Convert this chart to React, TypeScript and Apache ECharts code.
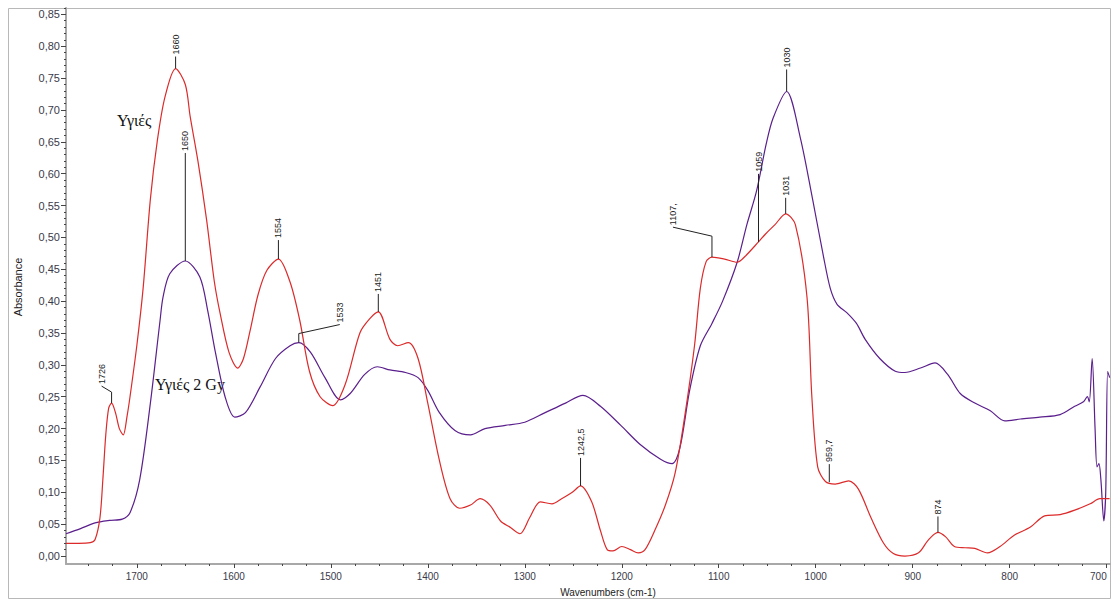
import React, { useEffect, useRef } from 'react';
import * as echarts from 'echarts';

// Υγιές (healthy) spectrum – wavenumber (cm-1) / absorbance
const healthyWn = [1773, 1760, 1748, 1743, 1738, 1735, 1732, 1729, 1726, 1722, 1718, 1714, 1710, 1707, 1700, 1693.5, 1686, 1679, 1671, 1660, 1650, 1645, 1637, 1628, 1620, 1614, 1605, 1596, 1590, 1583, 1575, 1566, 1554, 1542, 1532, 1522, 1511, 1498, 1485, 1470, 1460, 1451, 1439, 1431, 1420, 1410, 1400, 1388, 1377, 1367, 1356, 1346, 1336, 1325, 1315, 1305, 1295, 1284, 1272, 1262, 1251, 1242.5, 1231, 1222, 1215, 1209, 1200, 1191, 1183, 1176, 1166, 1155, 1145, 1135, 1125, 1119, 1113, 1107, 1094, 1081, 1073, 1059, 1052, 1042, 1031, 1021, 1009, 1004, 998, 990, 980, 966, 956, 943, 930, 920, 908, 894, 884, 874, 866, 857, 846, 836, 823, 810, 795, 779, 764, 748, 733, 717, 707, 697];
const healthyAbs = [0.02, 0.02, 0.021, 0.026, 0.06, 0.12, 0.19, 0.232, 0.24, 0.225, 0.2, 0.19, 0.22, 0.25, 0.33, 0.42, 0.56, 0.65, 0.72, 0.765, 0.74, 0.69, 0.62, 0.527, 0.43, 0.38, 0.32, 0.295, 0.31, 0.355, 0.41, 0.448, 0.466, 0.43, 0.37, 0.29, 0.25, 0.236, 0.27, 0.35, 0.372, 0.383, 0.34, 0.33, 0.335, 0.31, 0.24, 0.15, 0.09, 0.075, 0.08, 0.09, 0.08, 0.055, 0.045, 0.035, 0.06, 0.085, 0.082, 0.09, 0.1, 0.11, 0.085, 0.04, 0.01, 0.008, 0.015, 0.01, 0.005, 0.01, 0.04, 0.08, 0.13, 0.22, 0.33, 0.42, 0.462, 0.469, 0.466, 0.461, 0.47, 0.493, 0.505, 0.52, 0.537, 0.52, 0.406, 0.25, 0.14, 0.117, 0.113, 0.118, 0.105, 0.06, 0.02, 0.004, 0.0, 0.005, 0.025, 0.037, 0.03, 0.015, 0.013, 0.012, 0.005, 0.015, 0.033, 0.045, 0.063, 0.065, 0.072, 0.082, 0.09, 0.09];

// Υγιές 2 Gy (irradiated) spectrum
const irradiatedWn = [1773, 1758, 1743, 1728, 1715, 1707, 1697, 1686, 1676, 1673, 1666, 1650, 1635, 1627, 1619, 1609, 1599, 1588, 1573, 1557, 1542, 1533, 1521, 1506, 1490, 1480, 1465, 1452, 1439, 1423, 1410, 1400, 1388, 1372, 1356, 1341, 1320, 1300, 1279, 1258, 1240, 1222, 1201, 1181, 1160, 1148, 1140, 1130, 1119, 1107, 1096, 1081, 1071, 1061, 1051, 1044, 1030, 1016, 1003, 992, 985, 978, 968, 958, 949, 934, 918, 908, 892, 877, 864, 851, 836, 820, 805, 789, 769, 748, 733, 724, 720, 718, 715, 712, 710, 708, 706, 703, 701, 699, 697];
const irradiatedAbs = [0.035, 0.043, 0.052, 0.056, 0.058, 0.068, 0.12, 0.24, 0.37, 0.406, 0.443, 0.463, 0.438, 0.386, 0.32, 0.25, 0.218, 0.225, 0.265, 0.31, 0.33, 0.335, 0.32, 0.28, 0.245, 0.255, 0.285, 0.297, 0.292, 0.288, 0.28, 0.26, 0.225, 0.197, 0.19, 0.2, 0.205, 0.21, 0.225, 0.24, 0.252, 0.235, 0.205, 0.175, 0.152, 0.145, 0.17, 0.26, 0.33, 0.365, 0.4, 0.461, 0.52, 0.573, 0.647, 0.687, 0.729, 0.657, 0.558, 0.47, 0.42, 0.395, 0.382, 0.365, 0.34, 0.31, 0.29, 0.288, 0.295, 0.303, 0.285, 0.255, 0.24, 0.228, 0.212, 0.215, 0.218, 0.222, 0.235, 0.242, 0.25, 0.242, 0.31, 0.2, 0.14, 0.145, 0.12, 0.055, 0.1, 0.29, 0.28];

// Peak annotations
const peakLabels = ['1726', '1660', '1650', '1554', '1533', '1451', '1242,5', '1107,', '1059', '1031', '1030', '959,7', '874'];
const peakWn = [1726, 1660, 1650, 1554, 1533, 1451, 1242.5, 1107, 1059, 1031, 1030, 986, 874];
const peakAbs = [0.24, 0.765, 0.463, 0.466, 0.335, 0.383, 0.11, 0.469, 0.493, 0.537, 0.729, 0.116, 0.037];

// Axis ticks
const xTickValues = [700, 800, 900, 1000, 1100, 1200, 1300, 1400, 1500, 1600, 1700];
const yTickValues = [0, 0.05, 0.1, 0.15, 0.2, 0.25, 0.3, 0.35, 0.4, 0.45, 0.5, 0.55, 0.6, 0.65, 0.7, 0.75, 0.8, 0.85];

const X_MIN = 696.6;
const X_MAX = 1773;
const Y_MIN = -0.0125;
const Y_MAX = 0.86;

// leader-line geometry in pixels (styling, not data)
const leaders = [
  { up: 11, dx: -10, dy: -6 },
  { up: 12, dx: 0, dy: 0 },
  { up: 108, dx: 0, dy: 0 },
  { up: 19, dx: 0, dy: 0 },
  { up: 9, dx: 41, dy: -9 },
  { up: 18, dx: 0, dy: 0 },
  { up: 28, dx: 0, dy: 0 },
  { up: 21, dx: -39, dy: -9 },
  { up: 68, dx: 0, dy: 0 },
  { up: 16, dx: 0, dy: 0 },
  { up: 22, dx: 0, dy: 0 },
  { up: 18, dx: 0, dy: 0 },
  { up: 16, dx: 0, dy: 0 },
];

const xMinor: number[] = [];
for (let v = 700; v <= 1750; v += 25) xMinor.push(v);
const yMinor: number[] = [];
for (let k = 0; k <= 86; k++) yMinor.push(k / 100);

const FONT = '"Liberation Sans", Arial, sans-serif';
const SERIF = '"Liberation Serif", "Times New Roman", serif';

export default function App() {
  const ref = useRef<HTMLDivElement>(null);
  useEffect(() => {
    if (!ref.current) return;
    const chart = echarts.init(ref.current, undefined, { renderer: 'svg' });
    const healthy = healthyWn.map((w, i) => [w, healthyAbs[i]]);
    const irradiated = irradiatedWn.map((w, i) => [w, irradiatedAbs[i]]);
    const peaks = peakWn.map((w, i) => [w, peakAbs[i]]);

    const baseX = {
      type: 'value' as const,
      min: X_MIN,
      max: X_MAX,
      inverse: true,
      position: 'bottom' as const,
      offset: 0,
      splitLine: { show: false },
    };
    const baseY = {
      type: 'value' as const,
      min: Y_MIN,
      max: Y_MAX,
      position: 'left' as const,
      offset: 0,
      splitLine: { show: false },
    };

    chart.setOption({
      animation: false,
      backgroundColor: '#ffffff',
      grid: { left: 66, right: 2, top: 8, bottom: 37, containLabel: false, outerBoundsMode: 'none' },
      xAxis: [
        {
          ...baseX,
          axisLine: { show: true, onZero: false, lineStyle: { color: '#a8a8a8', width: 2 } },
          axisTick: { show: true, customValues: xTickValues, length: 4, lineStyle: { color: '#444', width: 1 } },
          axisLabel: {
            show: true,
            customValues: xTickValues,
            formatter: (v: number) => String(Math.round(v)),
            color: '#3a3a4a',
            fontSize: 10,
            fontFamily: FONT,
            margin: 7,
            alignMinLabel: 'right',
          },
        },
        {
          ...baseX,
          axisLine: { show: false, onZero: false },
          axisTick: { show: true, customValues: xMinor, length: 2, lineStyle: { color: '#444', width: 1 } },
          axisLabel: { show: false },
        },
      ],
      yAxis: [
        {
          ...baseY,
          axisLine: { show: true, onZero: false, lineStyle: { color: '#a8a8a8', width: 2 } },
          axisTick: { show: true, customValues: yTickValues, length: 5, lineStyle: { color: '#444', width: 1 } },
          axisLabel: {
            show: true,
            customValues: yTickValues,
            formatter: (v: number) => v.toFixed(2).replace('.', ','),
            color: '#3a3a4a',
            fontSize: 11,
            fontFamily: FONT,
            margin: 6,
          },
        },
        {
          ...baseY,
          axisLine: { show: false, onZero: false },
          axisTick: { show: true, customValues: yMinor, length: 2, lineStyle: { color: '#444', width: 1 } },
          axisLabel: { show: false },
        },
      ],
      graphic: [
        {
          type: 'rect',
          shape: { x: 8.5, y: 8.5, width: 1102, height: 590 },
          style: { fill: 'none', stroke: '#b8b8b8', lineWidth: 1 },
          silent: true,
          z: -1,
        },
        {
          type: 'text',
          x: 18,
          y: 287,
          rotation: Math.PI / 2,
          style: { text: 'Absorbance', font: `11px ${FONT}`, fill: '#222', align: 'center', verticalAlign: 'middle' },
        },
        {
          type: 'text',
          x: 608,
          y: 592,
          style: { text: 'Wavenumbers (cm-1)', font: `10px ${FONT}`, fill: '#222', align: 'center', verticalAlign: 'middle' },
        },
        {
          type: 'text',
          x: 117,
          y: 120,
          style: { text: 'Υγιές', font: `16px ${SERIF}`, fill: '#111', align: 'left', verticalAlign: 'middle' },
        },
        {
          type: 'text',
          x: 155,
          y: 384,
          style: { text: 'Υγιές 2 Gy', font: `16px ${SERIF}`, fill: '#111', align: 'left', verticalAlign: 'middle' },
        },
      ],
      series: [
        {
          name: 'Υγιές 2 Gy',
          type: 'line',
          data: irradiated,
          showSymbol: false,
          smooth: 0.3,
          lineStyle: { color: '#5a1f8c', width: 1.2 },
          itemStyle: { color: '#5a1f8c' },
          z: 2,
        },
        {
          name: 'Υγιές',
          type: 'line',
          data: healthy,
          showSymbol: false,
          smooth: 0.3,
          lineStyle: { color: '#dc2a2a', width: 1.2 },
          itemStyle: { color: '#dc2a2a' },
          z: 3,
        },
        {
          name: 'peaks',
          type: 'custom',
          data: peaks,
          z: 4,
          silent: true,
          renderItem: (params: any, api: any) => {
            const i = params.dataIndex;
            const p = api.coord([api.value(0), api.value(1)]);
            const s = leaders[i];
            const top = [p[0], p[1] - s.up];
            const end = [top[0] + s.dx, top[1] + s.dy];
            const pts = s.dx || s.dy ? [p, top, end] : [p, top];
            return {
              type: 'group',
              children: [
                { type: 'polyline', shape: { points: pts }, style: { stroke: '#222', lineWidth: 1, fill: null } },
                {
                  type: 'text',
                  x: end[0],
                  y: end[1] - 2,
                  rotation: Math.PI / 2,
                  style: { text: peakLabels[i], font: `9px ${FONT}`, fill: '#222', align: 'left', verticalAlign: 'middle' },
                },
              ],
            };
          },
        },
      ],
    });
    return () => chart.dispose();
  }, []);
  return <div ref={ref} style={{ position: 'absolute', left: 0, top: 0, width: 1112, height: 601 }} />;
}
